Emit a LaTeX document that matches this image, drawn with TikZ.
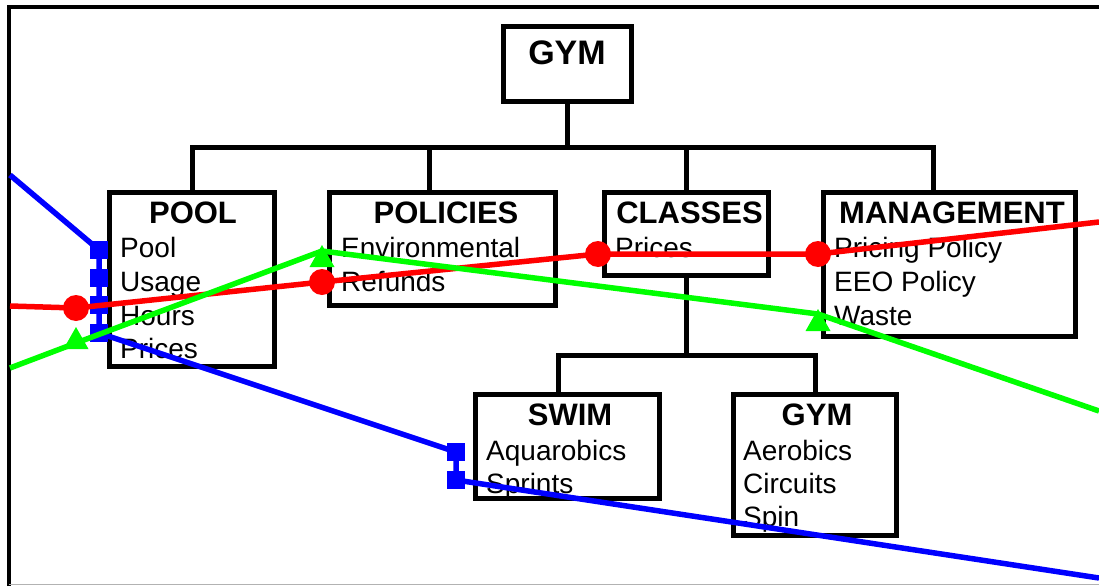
\documentclass[tikz,border=0pt]{standalone}
\usepackage{fontspec}
\setmainfont{Liberation Sans}
\definecolor{pptred}{RGB}{255,0,0}
\definecolor{pptgreen}{RGB}{0,255,0}
\definecolor{pptblue}{RGB}{0,0,255}
\tikzset{
  box/.style={draw=black, line width=5pt, fill=white, inner sep=0pt},
  conn/.style={draw=black, line width=5pt, line cap=rect},
  ttl/.style={font=\bfseries\fontsize{31}{31}\selectfont, anchor=base, inner sep=0pt},
  bigttl/.style={font=\bfseries\fontsize{34}{34}\selectfont, anchor=base, inner sep=0pt},
  body/.style={font=\fontsize{28}{28}\selectfont, anchor=base west, inner sep=0pt},
  redline/.style={draw=pptred, line width=5.5pt, line join=round},
  greenline/.style={draw=pptgreen, line width=5.5pt, line join=round},
  blueline/.style={draw=pptblue, line width=5.5pt, line join=miter},
  dot/.style={fill=pptred, circle, minimum size=26pt, inner sep=0pt},
  sq/.style={fill=pptblue, minimum size=18pt, inner sep=0pt},
}
\begin{document}
\begin{tikzpicture}[x=1pt, y=-1pt]
\useasboundingbox (0,0) rectangle (1099,586);
% frame
\draw[black, line width=4.5pt] (9,586) -- (9,7) -- (1099,7);
\draw[gray!60, line width=1.5pt] (9,584.5) -- (1099,584.5);

% boxes
\node[box, minimum width=128pt, minimum height=74pt] (gymtop) at (567,64) {};
\node[box, minimum width=165pt, minimum height=174pt] (pool) at (191.5,279) {};
\node[box, minimum width=226pt, minimum height=113pt] (policies) at (442,248.5) {};
\node[box, minimum width=164pt, minimum height=83pt] (classes) at (686,233.5) {};
\node[box, minimum width=252pt, minimum height=144pt] (management) at (949,264) {};
\node[box, minimum width=184pt, minimum height=104pt] (swim) at (567,446) {};
\node[box, minimum width=163pt, minimum height=141pt] (gymsub) at (814.5,464.5) {};

% tree connectors
\coordinate (busL) at (192,147);
\coordinate (busR) at (933,147);
\coordinate (polx) at (429,147);
\coordinate (mgx) at (933,147);
\coordinate (lowL) at (558,355);
\coordinate (lowR) at (815,355);
\draw[conn] (gymtop.south) -- (gymtop.south |- busL);
\draw[conn] (busL) -- (busR);
\draw[conn] (busL) -- (busL |- pool.north);
\draw[conn] (polx) -- (polx |- policies.north);
\draw[conn] (classes.north |- busL) -- (classes.north);
\draw[conn] (mgx) -- (mgx |- management.north);
\draw[conn] (classes.south) -- (classes.south |- lowL);
\draw[conn] (lowL) -- (lowR);
\draw[conn] (lowL) -- (lowL |- swim.north);
\draw[conn] (lowR) -- (lowR |- gymsub.north);

% texts
\node[bigttl] (tgym) at (567,64) {GYM};
\node[ttl] (tpool) at (193,223) {POOL};
\node[body] (p1) at (120,257) {Pool};
\node[body] (p2) at (120,291) {Usage};
\node[body] (p3) at (120,325) {Hours};
\node[body] (p4) at (120,358) {Prices};
\node[ttl] (tpol) at (446,223) {POLICIES};
\node[body] (q1) at (341,257) {Environmental};
\node[body] (q2) at (341,291) {Refunds};
\node[ttl] (tcls) at (689.5,223) {CLASSES};
\node[body] (c1) at (615,257) {Prices};
\node[ttl] (tmgt) at (952,223) {MANAGEMENT};
\node[body] (m1) at (834,257) {Pricing Policy};
\node[body] (m2) at (834,291) {EEO Policy};
\node[body] (m3) at (834,325) {Waste};
\node[ttl] (tswim) at (570,425) {SWIM};
\node[body] (s1) at (486,460) {Aquarobics};
\node[body] (s2) at (486,493) {Sprints};
\node[ttl] (tgs) at (817,425) {GYM};
\node[body] (g1) at (743,460) {Aerobics};
\node[body] (g2) at (743,493) {Circuits};
\node[body] (g3) at (743,526) {Spin};

% blue series
\coordinate (b0) at (10,175);
\coordinate (b1) at (99,250);
\coordinate (b2) at (99,278);
\coordinate (b3) at (99,305);
\coordinate (b4) at (99,333);
\coordinate (b5) at (456,452);
\coordinate (b6) at (456,480);
\coordinate (b7) at (1099,578);
\draw[blueline] (b0) -- (b1) -- (b2) -- (b3) -- (b4) -- (b5) -- (b6) -- (b7);
\foreach \p in {b1,b2,b3,b4,b5,b6} \node[sq] at (\p) {};

% red series
\coordinate (r0) at (10,306);
\coordinate (r1) at (76,308);
\coordinate (r2) at (322,282);
\coordinate (r3) at (598,254);
\coordinate (r4) at (818,254);
\coordinate (r5) at (1099,222);
\draw[redline] (r0) -- (r1) -- (r2) -- (r3) -- (r4) -- (r5);
\foreach \p in {r1,r2,r3,r4} \node[dot] at (\p) {};

% green series
\coordinate (g0) at (10,368);
\coordinate (gv1) at (76,343);
\coordinate (gv2) at (322,251);
\coordinate (gv3) at (818,314);
\coordinate (g4) at (1099,411);
\draw[greenline] (g0) -- (gv1) -- (gv2) -- (gv3) -- (g4);
\coordinate (t1) at (76,338);
\coordinate (t2) at (322,256);
\coordinate (t3) at (818,320);
\foreach \p in {t1,t2,t3}
  \fill[pptgreen] (\p) ++(-12.5,11) -- ++(12.5,-22) -- ++(12.5,22) -- cycle;
\end{tikzpicture}
\end{document}
